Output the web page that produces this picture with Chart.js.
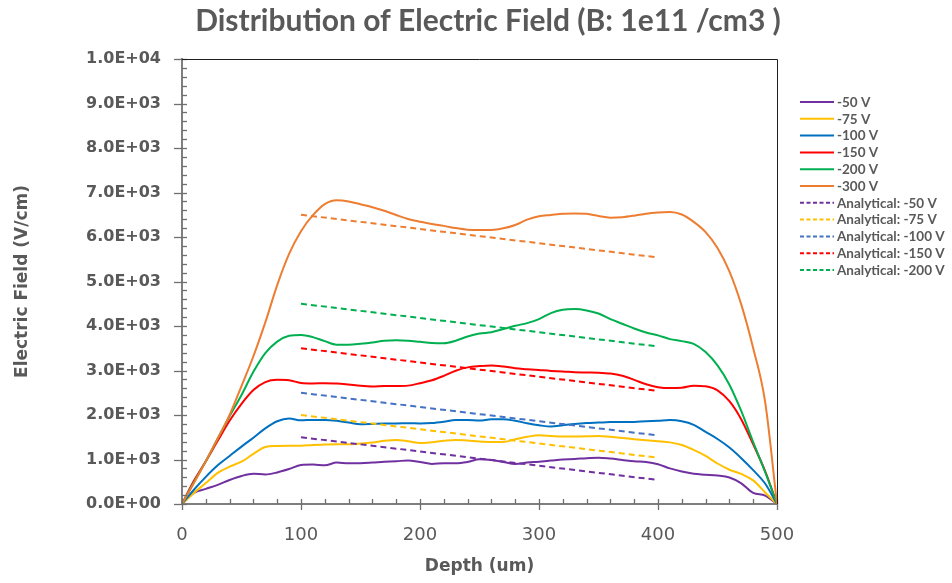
<!DOCTYPE html>
<html>
<head>
<meta charset="utf-8">
<script src="https://cdn.jsdelivr.net/npm/chart.js@4.4.0/dist/chart.umd.min.js"></script>
<style>
  html, body { margin: 0; padding: 0; background: #ffffff; }
  #wrap { width: 952px; height: 583px; }
</style>
</head>
<body>
<div id="wrap"><canvas id="c" width="952" height="583"></canvas></div>
<script>
// Depth grid (um) shared by the simulated field profiles
const depth = [0, 10, 20, 30, 40, 50, 60, 70, 80, 90, 100, 110, 120, 130, 140, 150, 160, 170, 180, 190,
  200, 210, 220, 230, 240, 250, 260, 270, 280, 290, 300, 310, 320, 330, 340, 350, 360, 370, 380, 390,
  400, 410, 420, 430, 440, 450, 460, 470, 480, 490, 500];

// Simulated electric field (V/cm) for each bias voltage
const field50 = [0, 250, 340, 430, 540, 630, 680, 665, 710, 785, 875, 885, 870, 930, 915, 915, 930, 950, 960, 980,
  945, 900, 915, 915, 945, 1005, 990, 945, 900, 930, 950, 975, 1000, 1010, 1030, 1040, 1020, 990, 960, 945,
  895, 800, 730, 680, 660, 640, 595, 465, 250, 190, 0];
const field75 = [0, 250, 470, 700, 840, 950, 1125, 1280, 1305, 1310, 1310, 1328, 1335, 1340, 1340, 1360, 1380, 1420, 1440, 1410,
  1370, 1390, 1420, 1440, 1425, 1405, 1395, 1395, 1455, 1510, 1545, 1530, 1515, 1515, 1520, 1530, 1510, 1485, 1455, 1430,
  1410, 1385, 1325, 1215, 1080, 910, 770, 675, 530, 260, 0];
const field100 = [0, 320, 610, 870, 1080, 1290, 1490, 1700, 1860, 1920, 1880, 1890, 1890, 1870, 1830, 1790, 1800, 1810, 1810, 1815,
  1810, 1820, 1850, 1890, 1890, 1875, 1905, 1905, 1870, 1815, 1770, 1740, 1770, 1800, 1820, 1830, 1840, 1840, 1845, 1860,
  1870, 1885, 1860, 1780, 1620, 1460, 1270, 1030, 760, 460, 0];
const field150 = [0, 520, 960, 1420, 1870, 2250, 2560, 2740, 2790, 2780, 2720, 2710, 2715, 2710, 2685, 2655, 2640, 2650, 2650, 2660,
  2715, 2780, 2880, 2995, 3070, 3100, 3115, 3090, 3050, 3030, 3010, 2990, 2980, 2960, 2955, 2950, 2930, 2880, 2790, 2690,
  2625, 2605, 2615, 2660, 2645, 2555, 2310, 1900, 1340, 740, 0];
const field200 = [0, 490, 960, 1470, 1970, 2450, 2970, 3390, 3650, 3780, 3800, 3750, 3660, 3580, 3580, 3600, 3630, 3670, 3680, 3670,
  3645, 3620, 3615, 3670, 3765, 3830, 3860, 3930, 4005, 4065, 4155, 4290, 4365, 4380, 4350, 4280, 4155, 4050, 3945, 3855,
  3790, 3705, 3660, 3600, 3415, 3115, 2680, 2085, 1390, 720, 0];
const field300 = [0, 470, 960, 1470, 2000, 2650, 3320, 4080, 4920, 5620, 6130, 6490, 6740, 6825, 6800, 6735, 6670, 6590, 6495, 6405,
  6345, 6290, 6250, 6200, 6165, 6160, 6160, 6195, 6270, 6390, 6465, 6495, 6525, 6530, 6520, 6470, 6435, 6445, 6480, 6525,
  6550, 6560, 6505, 6340, 6110, 5755, 5230, 4480, 3500, 2300, 0];

// Analytical estimate, evaluated at the ends of the depleted bulk
const analyticDepth = [100, 400];
const analytic50 = [1500, 540];
const analytic75 = [2000, 1040];
const analytic100 = [2500, 1540];
const analytic150 = [3500, 2540];
const analytic200 = [4500, 3540];
const analytic300 = [6500, 5540];

// Axis ticks
const xTicks = [0, 100, 200, 300, 400, 500];
const yTicks = [0, 1000, 2000, 3000, 4000, 5000, 6000, 7000, 8000, 9000, 10000];
const yTickLabels = ['0.0E+00', '1.0E+03', '2.0E+03', '3.0E+03', '4.0E+03', '5.0E+03',
  '6.0E+03', '7.0E+03', '8.0E+03', '9.0E+03', '1.0E+04'];

const TEXT = '#595959';
const FONT = 'DejaVu Sans';
const HEAD_FONT = 'Lato';

const pts = (xs, ys) => xs.map((x, i) => ({ x: x, y: ys[i] }));

const series = [
  { label: '-50 V', xs: depth, ys: field50, color: '#7030A0', dash: [] },
  { label: '-75 V', xs: depth, ys: field75, color: '#FFC000', dash: [] },
  { label: '-100 V', xs: depth, ys: field100, color: '#0070C0', dash: [] },
  { label: '-150 V', xs: depth, ys: field150, color: '#FF0000', dash: [] },
  { label: '-200 V', xs: depth, ys: field200, color: '#00B050', dash: [] },
  { label: '-300 V', xs: depth, ys: field300, color: '#ED7D31', dash: [] },
  { label: 'Analytical: -50 V', xs: analyticDepth, ys: analytic50, color: '#7030A0', dash: [6, 4] },
  { label: 'Analytical: -75 V', xs: analyticDepth, ys: analytic75, color: '#FFC000', dash: [6, 4] },
  { label: 'Analytical: -100 V', xs: analyticDepth, ys: analytic100, color: '#4472C4', dash: [6, 4] },
  { label: 'Analytical: -150 V', xs: analyticDepth, ys: analytic150, color: '#FF0000', dash: [6, 4] },
  { label: 'Analytical: -200 V', xs: analyticDepth, ys: analytic200, color: '#00B050', dash: [6, 4] },
  { label: 'Analytical: -300 V', xs: analyticDepth, ys: analytic300, color: '#ED7D31', dash: [6, 4], noLegend: true }
];

const datasets = series.map((s, i) => ({
  label: s.label,
  data: pts(s.xs, s.ys),
  borderColor: s.color,
  backgroundColor: s.color,
  borderWidth: 2,
  borderDash: s.dash,
  pointRadius: 0,
  fill: false,
  cubicInterpolationMode: 'monotone',
  order: series.length - i,
  noLegend: !!s.noLegend
}));

// Tick marks, plot frame and the series key
const decor = {
  id: 'decor',
  afterDraw(chart) {
    const { ctx, chartArea: a } = chart;
    const xs = chart.scales.x, ys = chart.scales.y;
    ctx.save();
    ctx.strokeStyle = '#6f6f6f';
    ctx.lineWidth = 1.3;
    for (let v = 0; v <= 500; v += 20) {
      const px = Math.round(xs.getPixelForValue(v)) + 0.5;
      const major = v % 100 === 0;
      ctx.beginPath();
      ctx.moveTo(px, a.bottom + (major ? 6 : 0));
      ctx.lineTo(px, a.bottom - 5);
      ctx.stroke();
    }
    for (let v = 0; v <= 10000; v += 200) {
      const py = Math.round(ys.getPixelForValue(v)) + 0.5;
      const major = v % 1000 === 0;
      ctx.beginPath();
      ctx.moveTo(a.left - (major ? 8 : 0), py);
      ctx.lineTo(a.left + 5, py);
      ctx.stroke();
    }
    // frame on top and right
    ctx.strokeStyle = '#1f1f1f';
    ctx.lineWidth = 1;
    ctx.beginPath();
    ctx.moveTo(a.left, Math.round(a.top) + 0.5);
    ctx.lineTo(Math.round(a.right) + 0.5, Math.round(a.top) + 0.5);
    ctx.lineTo(Math.round(a.right) + 0.5, a.bottom);
    ctx.stroke();

    // key
    const lx = a.right + 23;
    let ly = a.top + 43;
    ctx.font = 'bold 13.5px "' + HEAD_FONT + '"';
    ctx.textBaseline = 'middle';
    ctx.textAlign = 'left';
    chart.data.datasets.forEach(ds => {
      if (ds.noLegend) return;
      ctx.strokeStyle = ds.borderColor;
      ctx.lineWidth = 2;
      ctx.setLineDash(ds.borderDash.length ? [4, 2.5] : []);
      ctx.beginPath();
      ctx.moveTo(lx, ly);
      ctx.lineTo(lx + 34, ly);
      ctx.stroke();
      ctx.setLineDash([]);
      ctx.fillStyle = TEXT;
      ctx.fillText(ds.label, lx + 37, ly + 0.5);
      ly += 16.8;
    });
    ctx.restore();
  }
};

new Chart(document.getElementById('c'), {
  type: 'line',
  data: { datasets: datasets },
  plugins: [decor],
  options: {
    responsive: false,
    animation: false,
    devicePixelRatio: 1,
    layout: { padding: { left: 24, right: 0, top: 0, bottom: 0 } },
    plugins: {
      legend: { display: false },
      tooltip: { enabled: false },
      title: {
        display: true,
        text: 'Distribution of Electric Field (B: 1e11 /cm3 )',
        color: TEXT,
        font: { family: HEAD_FONT, size: 30, weight: 'bold' },
        padding: { top: 3, bottom: 20 }
      }
    },
    scales: {
      x: {
        type: 'linear',
        min: 0,
        max: 500,
        afterFit(s) { s.height = 79; },
        afterBuildTicks(s) { s.ticks = xTicks.map(v => ({ value: v })); },
        grid: { display: false, drawTicks: false },
        border: { display: true, color: '#7f7f7f', width: 2 },
        ticks: {
          color: TEXT,
          padding: 21,
          maxRotation: 0,
          font: { family: FONT, size: 18 },
          callback: v => String(v)
        },
        title: {
          display: true,
          text: 'Depth (um)',
          color: TEXT,
          font: { family: FONT, size: 17, weight: 'bold' },
          padding: { top: 0, bottom: 6 }
        }
      },
      y: {
        type: 'linear',
        min: 0,
        max: 10000,
        afterFit(s) { s.width = 158; },
        afterBuildTicks(s) { s.ticks = yTicks.map(v => ({ value: v })); },
        grid: { display: false, drawTicks: false },
        border: { display: true, color: '#7f7f7f', width: 2 },
        ticks: {
          color: TEXT,
          padding: 21,
          font: { family: FONT, size: 16, weight: 'bold' },
          callback: (v, i) => yTickLabels[i]
        },
        title: {
          display: true,
          text: 'Electric Field (V/cm)',
          color: TEXT,
          font: { family: FONT, size: 17, weight: 'bold' },
          padding: { top: -12, bottom: 0 }
        }
      },
      key: {
        type: 'linear',
        position: 'right',
        display: true,
        afterFit(s) { s.width = 175; },
        grid: { display: false, drawTicks: false },
        border: { display: false },
        ticks: { display: false }
      }
    }
  }
});
</script>
</body>
</html>
